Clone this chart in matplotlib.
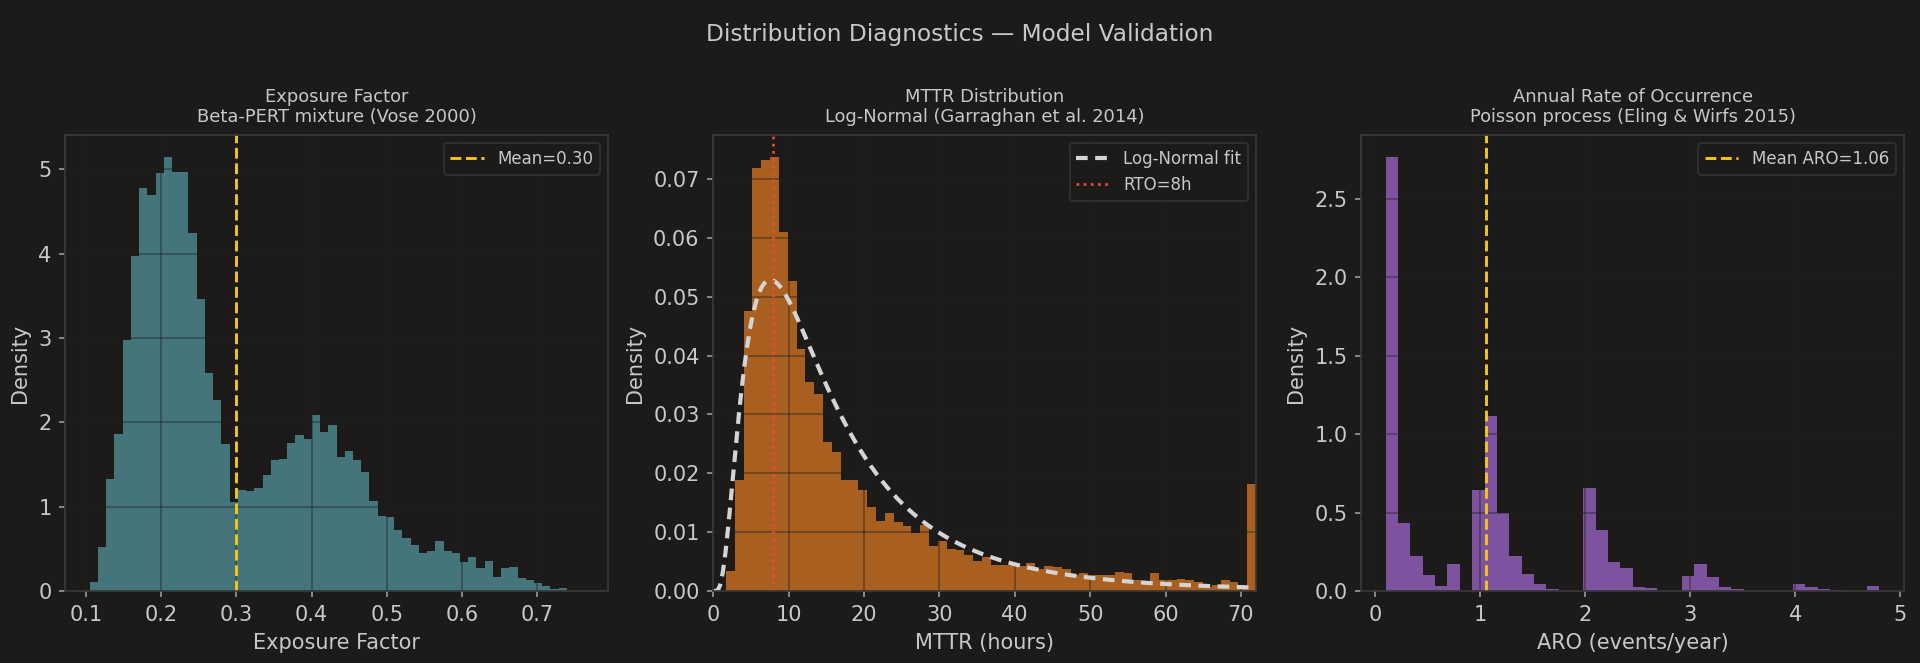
import numpy as np
import matplotlib
matplotlib.use("Agg")
import matplotlib.pyplot as plt

# --- data ---------------------------------------------------------------
# Exposure factor histogram (density), 60 bins
ef_start, ef_width = 0.1047, 0.01095
ef_density = [0.11, 0.52, 1.33, 1.86, 2.98, 3.97, 4.78, 4.70, 4.96, 5.15,
              4.97, 4.97, 4.24, 3.46, 2.59, 2.26, 1.74, 1.06, 1.20, 1.19,
              1.22, 1.37, 1.55, 1.57, 1.75, 1.85, 1.80, 2.09, 1.89, 1.97,
              1.59, 1.66, 1.55, 1.41, 1.07, 0.89, 0.88, 0.72, 0.63, 0.54,
              0.45, 0.47, 0.59, 0.47, 0.45, 0.34, 0.40, 0.27, 0.35, 0.17,
              0.27, 0.29, 0.16, 0.13, 0.10, 0.06, 0.02, 0.03, 0.0, 0.005]
ef_mean = 0.30

# MTTR histogram (density), 60 bins, clipped at 72h
mttr_start, mttr_stop = 1.7, 72.0
mttr_density = [0.0034, 0.0189, 0.0476, 0.0718, 0.0732, 0.0738, 0.0610, 0.0526,
                0.0412, 0.0356, 0.0335, 0.0253, 0.0237, 0.0188, 0.0189, 0.0171,
                0.0142, 0.0119, 0.0132, 0.0118, 0.0111, 0.0098, 0.0113, 0.0076,
                0.0085, 0.0071, 0.0069, 0.0061, 0.0051, 0.0057, 0.0044, 0.0044,
                0.0048, 0.0043, 0.0047, 0.0037, 0.0043, 0.0040, 0.0038, 0.0028,
                0.0030, 0.0028, 0.0028, 0.0028, 0.0032, 0.0030, 0.0018, 0.0017,
                0.0030, 0.0018, 0.0018, 0.0021, 0.0019, 0.0015, 0.0007, 0.0011,
                0.0019, 0.0016, 0.0006, 0.0182]
lognorm_mu, lognorm_sigma = 2.59, 0.75
rto_hours = 8

# ARO histogram (density), 40 bins
aro_start, aro_stop = 0.102, 4.80
aro_density = [2.769, 0.431, 0.222, 0.102, 0.032, 0.171, 0.0, 0.646, 1.118, 0.499,
               0.222, 0.111, 0.045, 0.011, 0.0, 0.0, 0.657, 0.392, 0.183, 0.145,
               0.028, 0.017, 0.0, 0.0, 0.096, 0.171, 0.090, 0.023, 0.011, 0.0,
               0.0, 0.0, 0.0, 0.045, 0.023, 0.011, 0.005, 0.0, 0.0, 0.032]
aro_mean = 1.06

# --- style ---------------------------------------------------------------
BG = "#1c1b1a"
TXT = "#c8c8c8"
GOLD = "#f5c518"
plt.rcParams.update({
    "figure.facecolor": BG,
    "axes.facecolor": BG,
    "axes.edgecolor": "#3a3a3a",
    "axes.labelcolor": TXT,
    "xtick.color": TXT,
    "ytick.color": TXT,
    "text.color": TXT,
    "font.size": 10,
    "xtick.labelsize": 10,
    "ytick.labelsize": 10,
    "axes.labelsize": 10,
})

fig, axes = plt.subplots(1, 3, figsize=(12.8, 4.42), dpi=150)
fig.subplots_adjust(left=0.0339, right=0.9917, bottom=0.1086, top=0.7964, wspace=0.1935)


def hist(ax, edges, dens, color):
    centers = (edges[:-1] + edges[1:]) / 2
    ax.hist(centers, bins=edges, weights=dens, color=color, alpha=0.9)
    # grid sits over the bars but under the lines
    ax.grid(True, color="#1e1e1e", linewidth=0.9, alpha=0.4)
    ax.set_axisbelow("line")
    for sp in ax.spines.values():
        sp.set_color("#3a3a3a")
    ax.tick_params(colors=TXT, length=3, color="#9a9a9a")


def legend(ax):
    leg = ax.legend(loc="upper right", fontsize=8, facecolor=BG, edgecolor="#2e2e2e",
                    labelcolor=TXT)
    leg.get_frame().set_alpha(1)


# Exposure factor
ax = axes[0]
ef_edges = ef_start + ef_width * np.arange(len(ef_density) + 1)
hist(ax, ef_edges, ef_density, "#488087")
ax.axvline(ef_mean, color=GOLD, ls="--", lw=1.4, label=f"Mean={ef_mean:.2f}")
ax.set_title("Exposure Factor\nBeta-PERT mixture (Vose 2000)", fontsize=8.6, color=TXT)
ax.set_xlabel("Exposure Factor")
ax.set_ylabel("Density")
legend(ax)

# MTTR
ax = axes[1]
mttr_edges = np.linspace(mttr_start, mttr_stop, len(mttr_density) + 1)
hist(ax, mttr_edges, mttr_density, "#b86721")
x = np.linspace(0.01, mttr_stop, 400)
pdf = np.exp(-(np.log(x) - lognorm_mu) ** 2 / (2 * lognorm_sigma ** 2)) / (x * lognorm_sigma * np.sqrt(2 * np.pi))
ax.plot(x, pdf, color="#d4d4d4", ls=(0, (2.8, 1.8)), lw=2.0, label="Log-Normal fit")
ax.axvline(rto_hours, color="#e74c3c", ls=":", lw=1.3, label=f"RTO={rto_hours}h")
ax.set_xlim(0, mttr_stop)
ax.set_title("MTTR Distribution\nLog-Normal (Garraghan et al. 2014)", fontsize=8.6, color=TXT)
ax.set_xlabel("MTTR (hours)")
ax.set_ylabel("Density")
legend(ax)

# ARO
ax = axes[2]
aro_edges = np.linspace(aro_start, aro_stop, len(aro_density) + 1)
hist(ax, aro_edges, aro_density, "#895aaf")
ax.axvline(aro_mean, color=GOLD, ls="--", lw=1.4, label=f"Mean ARO={aro_mean:.2f}")
ax.set_title("Annual Rate of Occurrence\nPoisson process (Eling & Wirfs 2015)", fontsize=8.6, color=TXT)
ax.set_xlabel("ARO (events/year)")
ax.set_ylabel("Density")
legend(ax)

fig.suptitle("Distribution Diagnostics \u2014 Model Validation", fontsize=11.2, color=TXT, y=0.965)

fig.savefig("out.png", dpi=150, facecolor=BG)
